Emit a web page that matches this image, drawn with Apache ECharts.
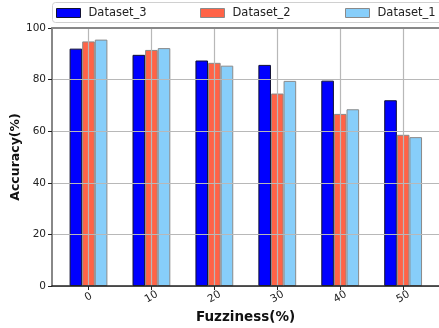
<!DOCTYPE html>
<html><head><meta charset="utf-8">
<script src="https://cdn.jsdelivr.net/npm/echarts@6/dist/echarts.min.js"></script>
<style>html,body{margin:0;padding:0;background:#fff}#c{width:439px;height:328px}</style>
</head><body><div id="c"></div>
<script>
const fuzziness = [0, 10, 20, 30, 40, 50];
const dataset3 = [92.0, 89.6, 87.4, 85.7, 79.6, 72.0];
const dataset2 = [94.8, 91.5, 86.5, 74.6, 66.7, 58.6];
const dataset1 = [95.5, 92.2, 85.4, 79.5, 68.5, 57.7];
const yTicks = [0, 20, 40, 60, 80, 100];
const seriesNames = ['Dataset_3', 'Dataset_2', 'Dataset_1'];

const font = 'DejaVu Sans';
const chart = echarts.init(document.getElementById('c'), null, {renderer: 'canvas'});
const pair = (vals) => fuzziness.map((f, i) => [f, vals[i]]);
const styles = [
  {color: '#0000ff', borderColor: '#111133', borderWidth: 1},
  {color: '#ff6347', borderColor: '#8a8a8a', borderWidth: 1},
  {color: '#87cefa', borderColor: '#8a8a8a', borderWidth: 1}
];
const vals = [dataset3, dataset2, dataset1];
const legendLefts = [56, 200, 345];

chart.setOption({
  animation: false,
  textStyle: {fontFamily: font},
  graphic: [{
    type: 'rect', z: 0,
    shape: {x: 52.5, y: 2.5, width: 400, height: 20, r: 3},
    style: {fill: 'rgba(255,255,255,0.8)', stroke: '#d0d0d0', lineWidth: 1}
  }],
  legend: seriesNames.map((n, i) => ({
    data: [n], left: legendLefts[i], top: 7, icon: 'rect',
    itemWidth: 24, itemHeight: 9, padding: 0,
    itemStyle: styles[i],
    textStyle: {fontFamily: font, fontSize: 11.5, color: '#222', padding: [0, 0, 0, 3]}
  })),
  grid: {left: 52, right: 0, top: 28, bottom: 42, outerBoundsMode: 'none', containLabel: false},
  xAxis: [{
    type: 'value', min: -5.8, max: 55.7, z: 5,
    name: 'Fuzziness(%)', nameLocation: 'middle', nameGap: 24, nameMoveOverlap: false,
    nameTextStyle: {fontFamily: font, fontWeight: 'bold', fontSize: 13.5, color: '#111'},
    axisLine: {show: true, onZero: false, lineStyle: {color: '#222', width: 1.5}},
    axisTick: {show: true, customValues: fuzziness, length: 4, lineStyle: {color: '#222'}},
    axisLabel: {customValues: fuzziness, rotate: 30, align: 'center', verticalAlign: 'middle', margin: 11,
      fontFamily: font, fontSize: 10.5, color: '#222'},
    splitLine: {show: true, lineStyle: {color: '#b8b8b8', width: 1.2}}
  }, {
    type: 'value', position: 'top', min: -5.8, max: 55.7, z: 6,
    axisLine: {show: true, onZero: false, lineStyle: {color: '#888', width: 2}},
    axisTick: {show: false}, axisLabel: {show: false}, splitLine: {show: false}
  }],
  yAxis: {
    type: 'value', min: 0, max: 100, interval: 20, z: 5,
    name: 'Accuracy(%)', nameLocation: 'middle', nameGap: 30, nameMoveOverlap: false,
    nameTextStyle: {fontFamily: font, fontWeight: 'bold', fontSize: 12.5, color: '#111'},
    axisLine: {show: true, onZero: false, lineStyle: {color: '#888', width: 2}},
    axisTick: {show: true, length: 4, lineStyle: {color: '#222'}},
    axisLabel: {fontFamily: font, fontSize: 10.5, color: '#222', margin: 6,
      customValues: yTicks},
    splitLine: {show: true, lineStyle: {color: '#b8b8b8', width: 1.2}}
  },
  series: seriesNames.map((n, i) => ({
    name: n, type: 'bar', data: pair(vals[i]),
    barWidth: 12.6, barGap: '0%', itemStyle: styles[i]
  }))
});
</script></body></html>
